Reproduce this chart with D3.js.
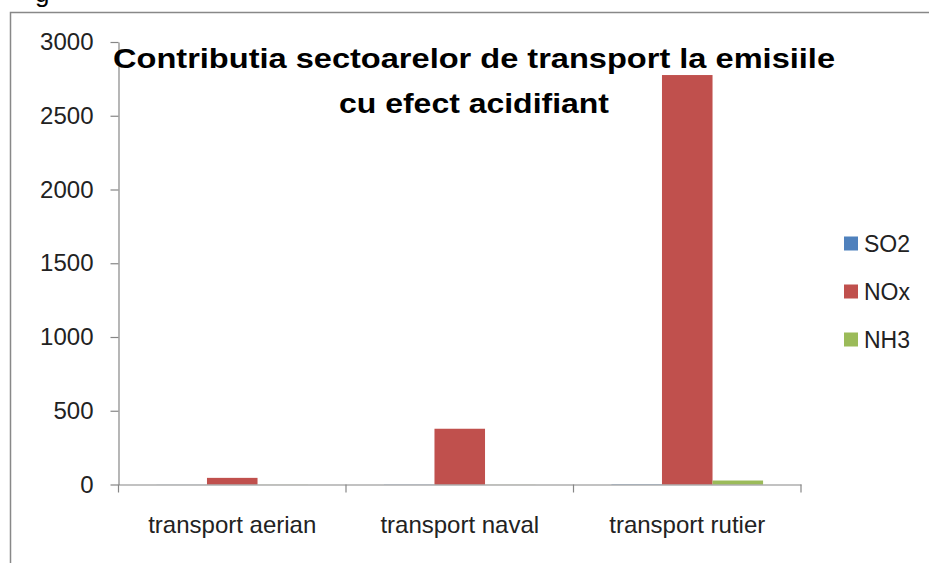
<!DOCTYPE html>
<html>
<head>
<meta charset="utf-8">
<script src="https://cdn.jsdelivr.net/npm/d3@7"></script>
<style>
  body { margin: 0; background: #fff; }
  text { font-family: "Liberation Sans", Arial, sans-serif; }
</style>
</head>
<body>
<script>
// chart data
const categories = ['transport aerian', 'transport naval', 'transport rutier'];
const seriesNames = ['SO2', 'NOx', 'NH3'];
const so2 = [0.5, 1, 2];
const nox = [45, 378, 2776];
const nh3 = [0.5, 0.5, 27];
const yTicks = [0, 500, 1000, 1500, 2000, 2500, 3000];
const titleLines = ['Contributia sectoarelor de transport la emisiile', 'cu efect acidifiant'];

const colors = ['#4F81BD', '#C0504D', '#9BBB59'];
const seriesValues = [so2, nox, nh3];

// set the dimensions of the canvas
const W = 929, H = 563;
const plot = { left: 118.5, right: 801, top: 42, bottom: 484.5 };

const svg = d3.select('body').append('svg')
  .attr('width', W)
  .attr('height', H);

// outer frame of the chart (runs past the window on right and bottom)
svg.append('rect')
  .attr('x', 10.5)
  .attr('y', 12.5)
  .attr('width', W + 20)
  .attr('height', H + 20)
  .attr('fill', 'none')
  .attr('stroke', '#888')
  .attr('stroke-width', 1.5);

// cut-off caption above the frame
svg.append('text')
  .attr('x', 35)
  .attr('y', 2)
  .style('font-size', '26px')
  .attr('fill', '#000')
  .text('g');

// set the ranges
const x0 = d3.scaleBand()
  .domain(categories)
  .range([plot.left, plot.right])
  .padding(0);
const x1 = d3.scaleBand()
  .domain(seriesNames)
  .range([0, x0.bandwidth()])
  .paddingInner(0)
  .paddingOuter(0.75);
const y = d3.scaleLinear()
  .domain([0, 3000])
  .range([plot.bottom, plot.top]);

// bars
const table = categories.map((c, i) => ({
  cat: c,
  vals: seriesNames.map((s, j) => ({ s, v: seriesValues[j][i], c: colors[j] })),
}));

svg.selectAll('.grp')
  .data(table)
  .enter().append('g')
  .attr('class', 'grp')
  .attr('transform', d => `translate(${x0(d.cat)},0)`)
  .selectAll('rect')
  .data(d => d.vals)
  .enter().append('rect')
  .attr('x', d => x1(d.s))
  .attr('width', x1.bandwidth())
  .attr('y', d => y(d.v))
  .attr('height', d => y(0) - y(d.v))
  .attr('fill', d => d.c);

// y axis
const yAxis = svg.append('g')
  .attr('transform', `translate(${plot.left},0)`)
  .call(d3.axisLeft(y).tickValues(yTicks).tickFormat(d3.format('d'))
    .tickSize(8).tickPadding(17).tickSizeOuter(0));

// x axis
const xAxis = svg.append('g')
  .attr('transform', `translate(0,${plot.bottom})`)
  .call(d3.axisBottom(x0).tickSize(0).tickPadding(31).tickSizeOuter(0));

// category separators on x axis
xAxis.selectAll('.sep')
  .data(categories.concat(['end']))
  .enter().append('line')
  .attr('class', 'sep')
  .attr('x1', (d, i) => i < categories.length ? x0(d) : plot.right)
  .attr('x2', (d, i) => i < categories.length ? x0(d) : plot.right)
  .attr('y1', 0)
  .attr('y2', 8);

[yAxis, xAxis].forEach(a => {
  a.selectAll('path, line').attr('stroke', '#868686').attr('stroke-width', 1.2);
  a.selectAll('text').attr('fill', '#222').style('font-size', '24px')
    .style('font-family', '"Liberation Sans", Arial, sans-serif');
  a.select('.domain').attr('stroke', '#868686');
});

// title
const title = svg.append('g');
titleLines.forEach((t, i) => {
  title.append('text')
    .attr('x', 474)
    .attr('y', 68 + i * 45)
    .attr('text-anchor', 'middle')
    .style('font-size', '28px')
    .style('font-weight', 'bold')
    .attr('fill', '#000')
    .attr('textLength', i === 0 ? 722 : 270)
    .attr('lengthAdjust', 'spacingAndGlyphs')
    .text(t);
});

// legend
const legend = svg.selectAll('.legend')
  .data(seriesNames)
  .enter().append('g')
  .attr('class', 'legend')
  .attr('transform', (d, i) => `translate(844,${243.5 + i * 48})`);

legend.append('rect')
  .attr('x', 0)
  .attr('y', -7)
  .attr('width', 14)
  .attr('height', 14)
  .attr('fill', (d, i) => colors[i]);

legend.append('text')
  .attr('x', 20)
  .attr('y', 0)
  .attr('dy', '0.35em')
  .style('font-size', '23px')
  .attr('fill', '#222')
  .text(d => d);
</script>
</body>
</html>
